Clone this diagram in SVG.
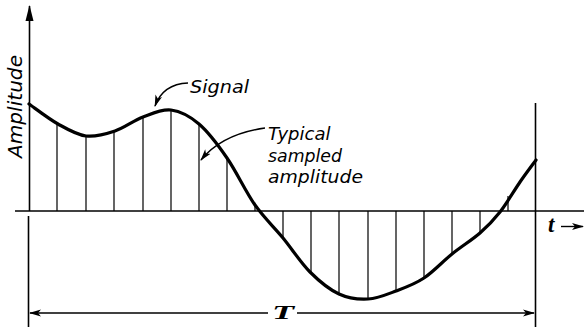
<svg xmlns="http://www.w3.org/2000/svg" width="584" height="327" viewBox="0 0 584 327">
<style>
.ax{stroke:#000;stroke-width:1.6;fill:none}
.smp{stroke:#000;stroke-width:1.2;fill:none}
.sig{stroke:#000;stroke-width:3.2;fill:none;stroke-linecap:round;stroke-linejoin:round}
.lead{stroke:#000;stroke-width:1.4;fill:none}
.lbl{font-family:"DejaVu Sans",sans-serif;font-style:oblique;font-size:18px;fill:#000}
.sym{font-family:"Liberation Serif",serif;font-style:italic;font-weight:bold;fill:#000}
.bigT{font-size:19px}
.smt{font-size:23px}
</style>
<defs>
<marker id="ah" viewBox="0 0 12 8" refX="11" refY="4" markerWidth="12" markerHeight="8" markerUnits="userSpaceOnUse" orient="auto">
<path d="M0,0.5 L12,4 L0,7.5 L3,4 Z" fill="#000"/>
</marker>
<marker id="ax" viewBox="0 0 16 10" refX="15" refY="5" markerWidth="16" markerHeight="10" markerUnits="userSpaceOnUse" orient="auto">
<path d="M0,1 L16,5 L0,9 Z" fill="#000"/>
</marker>
</defs>
<g id="axes">
<line class="ax" x1="29.5" y1="211" x2="29.5" y2="6" marker-end="url(#ax)"/>
<line class="ax" x1="15" y1="211" x2="584" y2="211"/>
<line class="ax" x1="28.5" y1="216" x2="28.5" y2="327"/>
<line class="ax" x1="535.5" y1="103" x2="535.5" y2="327"/>
</g>
<g id="samples">
<path class="smp" d="M57,211V124 M86,211V136 M114,211V131 M143,211V117 M171,211V110 M199,211V124 M227,211V158 M255,211V205 M283,211V237 M311,211V273 M339,211V294 M368,211V299 M396,211V291 M424,211V278 M452,211V254 M480,211V233 M508,211V196"/>
</g>
<g id="signal">
<path class="sig" d="M29,104 C33.8,107.3 48.5,118.7 58,124 C67.5,129.3 76.5,134.8 86,136 C95.5,137.2 105.5,134.2 115,131 C124.5,127.8 133.7,120.5 143,117 C152.3,113.5 161.7,108.8 171,110 C180.3,111.2 189.7,116 199,124 C208.3,132 217.7,144.5 227,158 C236.3,171.5 245.7,191.7 255,205 C264.3,218.3 273.8,226.8 283,238 C292.2,249.2 300.7,262.7 310,272 C319.3,281.3 329.3,289.5 339,294 C348.7,298.5 358.5,299.5 368,299 C377.5,298.5 386.7,294.5 396,291 C405.3,287.5 414.7,284.2 424,278 C433.3,271.8 442.7,261.5 452,254 C461.3,246.5 472,240 480,233 C488,226 493.3,220.5 500,212 C506.7,203.5 514,190.7 520,182 C526,173.3 533.3,163.7 536,160"/>
</g>
<g id="connectors">
<path class="lead" d="M188,83 Q163,84 155,106" marker-end="url(#ah)"/>
<path class="lead" d="M265,128 Q222,134 201,160" marker-end="url(#ah)"/>
<line class="lead" x1="561" y1="226.5" x2="583" y2="226.5" marker-end="url(#ah)"/>
<line class="lead" x1="268" y1="313" x2="30" y2="313" marker-end="url(#ah)"/>
<line class="lead" x1="297" y1="313" x2="534" y2="313" marker-end="url(#ah)"/>
</g>
<g id="labels">
<text class="lbl" x="190" y="93" textLength="59" lengthAdjust="spacingAndGlyphs">Signal</text>
<text class="lbl" x="268" y="140">Typical</text>
<text class="lbl" x="268" y="162" textLength="74" lengthAdjust="spacingAndGlyphs">sampled</text>
<text class="lbl" x="268" y="183" textLength="95" lengthAdjust="spacingAndGlyphs">amplitude</text>
<text class="lbl" transform="translate(22,158) rotate(-90)" textLength="103" lengthAdjust="spacingAndGlyphs" style="font-size:19px">Amplitude</text>
<text class="sym bigT" x="272" y="319" textLength="22" lengthAdjust="spacingAndGlyphs">T</text>
<text class="sym smt" x="548" y="232">t</text>
</g>
</svg>
